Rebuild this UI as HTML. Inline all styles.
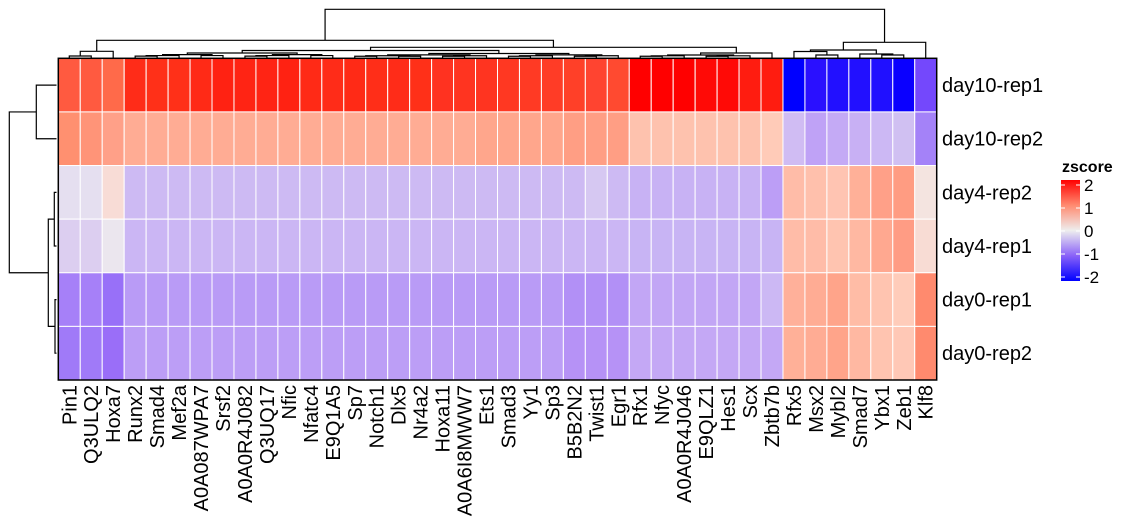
<!DOCTYPE html>
<html><head><meta charset="utf-8"><style>
html,body{margin:0;padding:0;background:#fff;}
svg{display:block;font-family:"Liberation Sans",Arial,sans-serif;}
</style></head><body>
<svg id="s" width="1125" height="530" viewBox="0 0 1125 530" xmlns="http://www.w3.org/2000/svg">
<defs><linearGradient id="g" x1="0" y1="1" x2="0" y2="0">
<stop offset="0" stop-color="#0000ff"/><stop offset="0.25" stop-color="#8a62f8"/><stop offset="0.5" stop-color="#eeeeee"/><stop offset="0.75" stop-color="#ff8a70"/><stop offset="1" stop-color="#ff0000"/></linearGradient></defs>
<g id="cells"></g>
<rect x="58.3" y="58.3" width="878.4" height="321.7" fill="none" stroke="#000" stroke-width="1.5"/>
<g id="dend" stroke="#000" stroke-width="1.2" fill="none"></g>
<g id="labels" font-size="20" fill="#000"></g>
<text x="1062" y="172" font-size="16" font-weight="bold">zscore</text>
<rect x="1061" y="180" width="19" height="101" fill="url(#g)"/>
<g stroke="#fff" stroke-width="1">
<line x1="1061" y1="185" x2="1065" y2="185"/><line x1="1076" y1="185" x2="1080" y2="185"/>
<line x1="1061" y1="208" x2="1065" y2="208"/><line x1="1076" y1="208" x2="1080" y2="208"/>
<line x1="1061" y1="231" x2="1065" y2="231"/><line x1="1076" y1="231" x2="1080" y2="231"/>
<line x1="1061" y1="254" x2="1065" y2="254"/><line x1="1076" y1="254" x2="1080" y2="254"/>
<line x1="1061" y1="277" x2="1065" y2="277"/><line x1="1076" y1="277" x2="1080" y2="277"/>
</g>
<g font-size="17"><text x="1084" y="191">2</text><text x="1084" y="214">1</text><text x="1084" y="237">0</text><text x="1084" y="260">-1</text><text x="1084" y="283">-2</text></g>
</svg>
<script>
var NS="http://www.w3.org/2000/svg";
function el(p,t,a,txt){var e=document.createElementNS(NS,t);for(var k in a)e.setAttribute(k,a[k]);if(txt!=null)e.textContent=txt;document.getElementById(p).appendChild(e);return e;}
var X0=58.3,CW=21.96,Y0=58.3,RH=53.62;
function c(i){return X0+CW*(i+0.5);}
var names=["Pin1","Q3ULQ2","Hoxa7","Runx2","Smad4","Mef2a","A0A087WPA7","Srsf2","A0A0R4J082","Q3UQ17","Nfic","Nfatc4","E9Q1A5","Sp7","Notch1","Dlx5","Nr4a2","Hoxa11","A0A6I8MWW7","Ets1","Smad3","Yy1","Sp3","B5B2N2","Twist1","Egr1","Rfx1","Nfyc","A0A0R4J046","E9QLZ1","Hes1","Scx","Zbtb7b","Rfx5","Msx2","Mybl2","Smad7","Ybx1","Zeb1","Klf8"];
var rows=["day10-rep1","day10-rep2","day4-rep2","day4-rep1","day0-rep1","day0-rep2"];
var cols=[];
var mid0=["#ff2c18","#ff3018","#ff3018","#ff2a16","#ff2212","#ff2414","#ff2414","#ff2212","#ff2a16","#ff2c18","#ff2a16","#ff2e18","#ff2c18","#ff3018","#ff3220","#ff3420","#ff3420","#ff3822","#ff3a24","#ff3c26","#ff4028","#ff4430","#ff4a30"];
cols.push(["#ff5a40","#ff9070","#e5dff0","#dccef0","#a680f8","#a07af8"]);
cols.push(["#ff5a40","#ff9478","#e5dff0","#dccef0","#a680f8","#a07af8"]);
cols.push(["#ff6a4a","#ffa088","#f8dcd6","#ebe6ee","#9870f8","#9a6ef8"]);
for(var i=0;i<23;i++){var r1=i<16?"#ffac94":(i<20?"#ffa68c":"#ff9e84");cols.push([mid0[i],r1,i==21?"#d6c8f2":"#cdbaf3","#cbb6f4",i>19?"#b290f6":"#b99bf6",i>19?"#b692f6":"#bc9ef6"]);}
for(var i=26;i<33;i++){cols.push([i<29?"#ff0000":(i<31?"#ff0a06":"#ff1c10"),i==32?"#ffcbb8":"#fec2ae","#c8b2f4","#c8b4f4","#c2a6f5","#c4a8f5"]);}
cols[32][2]="#bc9ef6";cols[32][4]="#ccb8f4";
var R=[["#0000ff","#d0bcf3","#ffbca8","#ffbca8","#ffb09a","#ffb098"],["#2a10ff","#bfa2f6","#ffc0ac","#ffbca8","#ffac94","#ffac94"],["#2210ff","#c4aaf5","#ffc4b2","#ffc4b0","#ffa48a","#ffa48a"],["#2210ff","#c8b0f4","#ffb098","#ffb8a2","#ffbca6","#ffb8a2"],["#2010ff","#ccb8f4","#ffa088","#ffa890","#ffc4b0","#ffc4b0"],["#0a00ff","#d0c0f2","#ff9c82","#ff9c84","#ffccba","#ffc8b6"],["#7448fc","#a482f8","#f4e4e0","#f8dcd4","#ff8a6e","#ff8a6e"]];
cols=cols.concat(R);
for(var j=0;j<40;j++)for(var r=0;r<6;r++)el("cells","rect",{x:X0+CW*j,y:Y0+RH*r,width:CW,height:RH,fill:cols[j][r],stroke:"#fff","stroke-width":1});
for(var r=0;r<6;r++)el("labels","text",{x:942,y:Y0+RH*(r+0.5)+7},rows[r]);
for(var j=0;j<40;j++)el("labels","text",{transform:"translate("+(c(j)+7)+",385) rotate(-90)","text-anchor":"end"},names[j]);
function L(d){el("dend","path",{d:d});}
function leaf(i){return {x:c(i),y:58};}
function node(a,b,y){L("M"+a.x+" "+a.y+"V"+y+"H"+b.x+"V"+b.y);return {x:(a.x+b.x)/2,y:y};}
function cl(lo,hi,y){if(lo==hi)return leaf(lo);var m=Math.floor((lo+hi)/2);var y2=y+(57-y)*0.4;return node(cl(lo,m,y2),cl(m+1,hi,y2),y);}
var A=node(node(leaf(0),leaf(1),56),leaf(2),51.3);
var B1=node(cl(3,12,53),cl(13,25,53.5),50.5);
var B2=node(cl(26,31,55),leaf(32),53);
var B=node(B1,B2,47.3);
var Lt=node(A,B,40.3);
var R1=node(node(leaf(33),node(leaf(34),leaf(35),55),51.5),node(leaf(36),node(leaf(37),leaf(38),55),54),50);
var Rt=node(R1,leaf(39),42.3);
node(Lt,Rt,9.3);
function rc(i){return Y0+RH*(i+0.5);}
function hn(a,b,x){L("M"+a.x+" "+a.y+"H"+x+"V"+b.y+"H"+b.x);return {x:x,y:(a.y+b.y)/2};}
function rl(i){return {x:56.5,y:rc(i)};}
var t1=hn(rl(0),rl(1),36.3);
var t2=hn(rl(2),rl(3),54.3);
var t3=hn(rl(4),rl(5),55);
var t4=hn(t2,t3,48.3);
hn(t1,t4,9.3);
</script>
</body></html>
